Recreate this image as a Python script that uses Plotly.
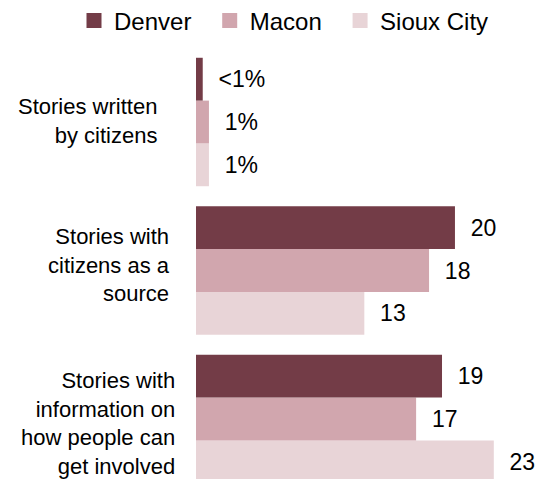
import plotly.graph_objects as go

categories = ["Stories written<br>by citizens",
              "Stories with<br>citizens as a<br>source",
              "Stories with<br>information on<br>how people can<br>get involved"]
cities = ["Denver", "Macon", "Sioux City"]
denver = [0.52, 20, 19]
macon = [1, 18, 17]
sioux = [1, 13, 23]
denver_labels = ["<1%", "20", "19"]
macon_labels = ["1%", "18", "17"]
sioux_labels = ["1%", "13", "23"]

colors = {"Denver": "#733C47", "Macon": "#D1A6AE", "Sioux City": "#E8D4D7"}
series = {"Denver": (denver, denver_labels),
          "Macon": (macon, macon_labels),
          "Sioux City": (sioux, sioux_labels)}

ypos = [2, 1, 0]  # top to bottom
FONT = "Liberation Sans, Arial, sans-serif"
PAD = "\u00a0\u00a0"

W, H = 535, 471
ML, MT = 188, 45
PLOT_W, PLOT_H = W - ML, H - MT

fig = go.Figure()
for city in ["Sioux City", "Macon", "Denver"]:
    vals, labs = series[city]
    fig.add_trace(go.Bar(
        y=ypos, x=vals, orientation="h", name=city, showlegend=False,
        marker=dict(color=colors[city], line=dict(width=0)),
        text=[PAD + t for t in labs], textposition="outside",
        textfont=dict(size=23, color="#000000", family=FONT),
        cliponaxis=False, constraintext="none",
        hoverinfo="skip",
    ))

# legend entries (square swatches)
for city in cities:
    fig.add_trace(go.Scatter(
        x=[None], y=[None], mode="markers", name=city + PAD,
        marker=dict(symbol="square", size=15, color=colors[city]),
        hoverinfo="skip",
    ))

label_xshift = [-37, -24, -19]
label_yshift = [1.5, 6, -4.5]
for y, cat, sx, sy in zip(ypos, categories, label_xshift, label_yshift):
    fig.add_annotation(x=0, y=y, xref="x", yref="y", text=cat, showarrow=False,
                       xanchor="right", yanchor="middle", align="right",
                       xshift=sx, yshift=sy,
                       font=dict(size=22, color="#000000", family=FONT))

fig.update_layout(
    width=W, height=H,
    margin=dict(l=ML, r=0, t=MT, b=0, autoexpand=False),
    barmode="group", bargap=0.135, bargroupgap=0,
    plot_bgcolor="white", paper_bgcolor="white",
    showlegend=True,
    legend=dict(orientation="h", xref="paper", yref="paper",
                x=(66 - ML) / PLOT_W, xanchor="left",
                y=1 + (MT + 9.5) / PLOT_H, yanchor="top",
                font=dict(size=24, family=FONT, color="#000000"),
                itemwidth=30, itemclick=False,
                bgcolor="rgba(0,0,0,0)"),
    xaxis=dict(range=[0, 26.8], visible=False, fixedrange=True),
    yaxis=dict(range=[-0.404, 2 + (114 - MT) / 148.5], visible=False, fixedrange=True),
    font=dict(family=FONT),
)

fig.write_html("out.html")
